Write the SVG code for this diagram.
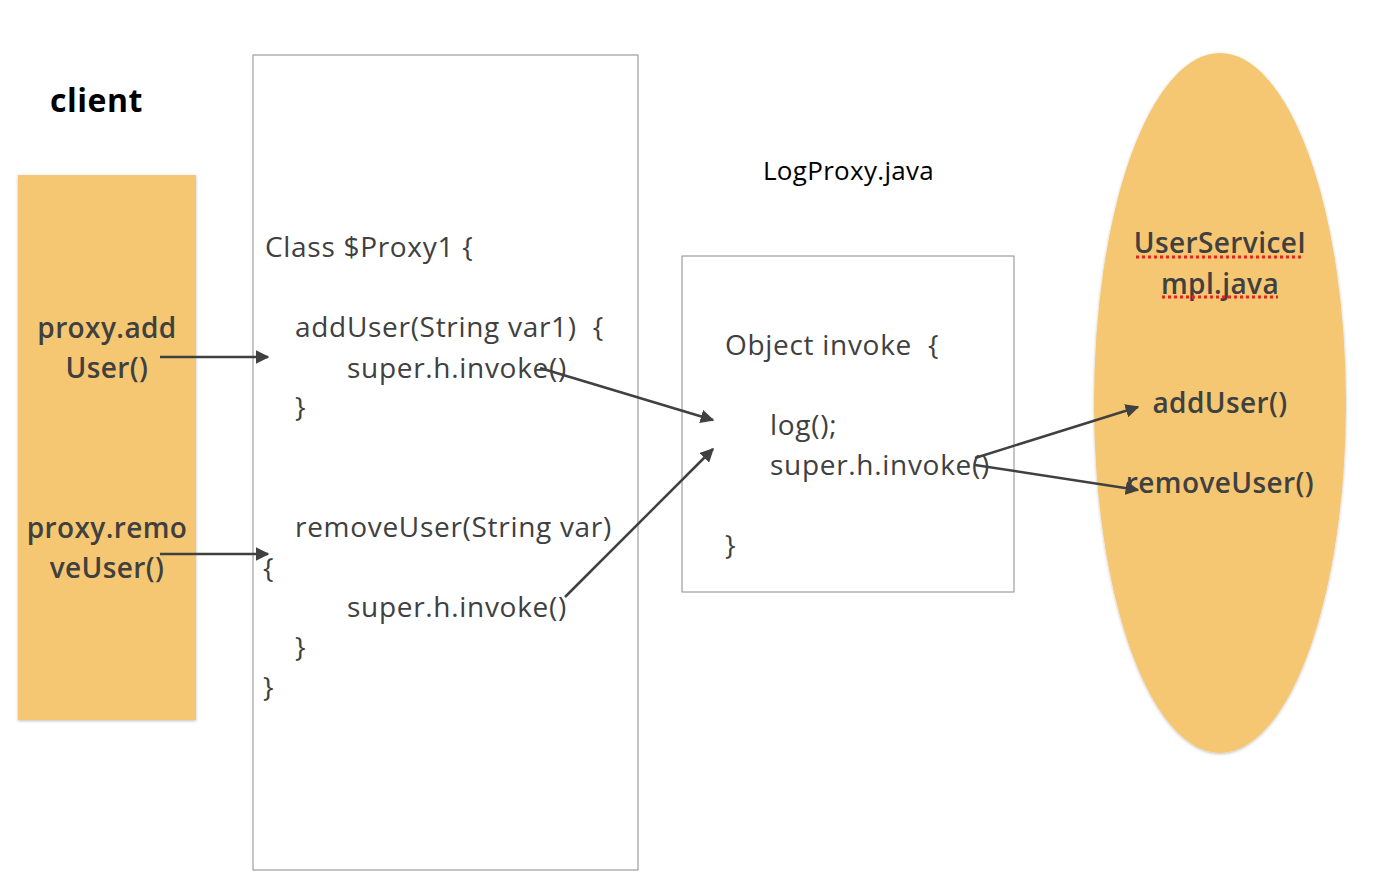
<svg xmlns="http://www.w3.org/2000/svg" width="1382" height="884" viewBox="0 0 1382 884">
<defs>
<marker id="ah" viewBox="0 0 10 10" refX="9" refY="5" markerWidth="5.5" markerHeight="5.5" orient="auto" markerUnits="strokeWidth">
<path d="M0,0 L10,5 L0,10 z" fill="#404040"/>
</marker>
<filter id="sh" x="-10%" y="-10%" width="120%" height="120%">
<feDropShadow dx="0" dy="1" stdDeviation="1.5" flood-color="#000" flood-opacity="0.25"/>
</filter>
</defs>
<style>
text{font-family:"Open Sans","Liberation Sans",sans-serif;fill:#404040;font-size:28px;letter-spacing:0.7px}
.box{fill:#fff;stroke:#8a8a8a;stroke-width:1}
.or{fill:#F5C772}
.c{text-anchor:middle}
.b{font-weight:600;letter-spacing:0.4px}
.conn line{stroke:#404040;stroke-width:2.5;marker-end:url(#ah)}
.sq{stroke:#e8221c;stroke-width:3;stroke-dasharray:3 3}
</style>
<rect width="1382" height="884" fill="#fff"/>
<g id="client-label"><text x="50" y="112" style="font-weight:bold;font-size:32px;fill:#000;letter-spacing:0.5px">client</text></g>
<g id="client">
<rect class="or" x="18" y="175" width="178" height="545" filter="url(#sh)"/>
<text class="c b" x="107" y="338">proxy.add</text>
<text class="c b" x="107" y="378">User()</text>
<text class="c b" x="107" y="538">proxy.remo</text>
<text class="c b" x="107" y="578">veUser()</text>
</g>
<g id="proxy1">
<rect class="box" x="253" y="55" width="385" height="815"/>
<text x="265" y="257">Class $Proxy1 {</text>
<text x="295" y="337" xml:space="preserve">addUser(String var1)  {</text>
<text x="347" y="378">super.h.invoke()</text>
<text x="295" y="417">}</text>
<text x="295" y="537">removeUser(String var)</text>
<text x="263" y="578">{</text>
<text x="347" y="617">super.h.invoke()</text>
<text x="295" y="657">}</text>
<text x="263" y="697">}</text>
</g>
<g id="logproxy-label"><text x="763" y="180" style="font-size:26px;fill:#000;letter-spacing:0.3px">LogProxy.java</text></g>
<g id="logproxy">
<rect class="box" x="682" y="256" width="332" height="336"/>
<text x="725" y="355" xml:space="preserve">Object invoke  {</text>
<text x="770" y="435">log();</text>
<text x="770" y="475">super.h.invoke()</text>
<text x="725" y="555">}</text>
</g>
<g id="userserviceimpl">
<ellipse class="or" cx="1220" cy="403" rx="126" ry="350" filter="url(#sh)"/>
<text class="c b" x="1220" y="253">UserServiceI</text>
<line class="sq" x1="1136" y1="257" x2="1304" y2="257"/>
<text class="c b" x="1220" y="294">mpl.java</text>
<line class="sq" x1="1162" y1="297" x2="1278" y2="297"/>
<text class="c b" x="1220" y="413">addUser()</text>
<text class="c b" x="1220" y="493">removeUser()</text>
</g>
<g class="conn" id="connectors">
<line x1="160" y1="357" x2="268" y2="357"/>
<line x1="160" y1="554" x2="268" y2="554"/>
<line x1="540" y1="368" x2="713" y2="420"/>
<line x1="565" y1="597" x2="713" y2="449"/>
<line x1="975" y1="458" x2="1138" y2="407"/>
<line x1="975" y1="465" x2="1138" y2="490"/>
</g>
</svg>
